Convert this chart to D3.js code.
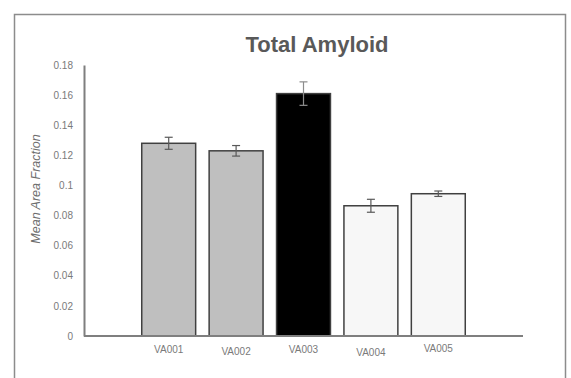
<!DOCTYPE html>
<html>
<head>
<meta charset="utf-8">
<script src="https://cdn.jsdelivr.net/npm/d3@7"></script>
<style>
  body { margin: 0; background: #fff; }
  text { font-family: "Liberation Sans", Arial, sans-serif; }
</style>
</head>
<body>
<script>
// data
var samples = ["VA001", "VA002", "VA003", "VA004", "VA005"];
var means   = [0.128, 0.123, 0.161, 0.0865, 0.0945];
var errs    = [0.004, 0.0035, 0.0078, 0.0043, 0.0018];
var fills   = ["#bfbfbf", "#bfbfbf", "#000000", "#f7f7f7", "#f7f7f7"];
var yTicks  = [0, 0.02, 0.04, 0.06, 0.08, 0.1, 0.12, 0.14, 0.16, 0.18];
var labelShift = [0, 2, 0, 3, -1];

var width = 571, height = 378;

var svg = d3.select("body")
  .append("svg")
  .attr("width", width)
  .attr("height", height);

// outer frame (bottom edge is off the picture)
svg.append("path")
  .attr("d", "M14.5,390 L14.5,14.5 L565.5,14.5 L565.5,390")
  .attr("fill", "none")
  .attr("stroke", "#8c8c8c")
  .attr("stroke-width", 1.5);

var y = d3.scaleLinear().domain([0, 0.18]).range([336, 65]);

var x = d3.scaleBand()
  .domain(samples)
  .range([135, 472])
  .paddingInner(0.2)
  .paddingOuter(0.1);

svg.append("text")
  .attr("x", 317)
  .attr("y", 52)
  .attr("text-anchor", "middle")
  .attr("font-size", 22)
  .attr("font-weight", "bold")
  .attr("fill", "#595959")
  .text("Total Amyloid");

// y axis: line + labels, no tick marks
var yAxis = svg.append("g")
  .attr("transform", "translate(84,0)")
  .call(d3.axisLeft(y).tickValues(yTicks).tickSize(0).tickPadding(11)
    .tickFormat(function(d) { return d3.format("~g")(d); }));
yAxis.select(".domain").attr("stroke", "#7f7f7f").attr("stroke-width", 2);
yAxis.selectAll("text")
  .attr("font-size", 10)
  .attr("fill", "#7a7a7a")
  .style("font-family", "'Liberation Sans', Arial, sans-serif");

svg.append("text")
  .attr("transform", "translate(40,189) rotate(-90)")
  .attr("text-anchor", "middle")
  .attr("font-size", 12.5)
  .attr("font-style", "italic")
  .attr("fill", "#6e6e6e")
  .text("Mean Area Fraction");

// bars
svg.append("g").selectAll("rect")
  .data(samples)
  .enter()
  .append("rect")
  .attr("x", function(d) { return x(d); })
  .attr("y", function(d, i) { return y(means[i]); })
  .attr("width", x.bandwidth())
  .attr("height", function(d, i) { return y(0) - y(means[i]); })
  .attr("fill", function(d, i) { return fills[i]; })
  .attr("stroke", "#404040")
  .attr("stroke-width", 1.5);

// error bars
var eb = svg.append("g").selectAll("g")
  .data(samples)
  .enter()
  .append("g")
  .attr("stroke", function(d, i) { return i == 2 ? "#8c8c8c" : "#595959"; })
  .attr("stroke-width", 1.2);
eb.append("line")
  .attr("x1", function(d) { return x(d) + x.bandwidth() / 2; })
  .attr("x2", function(d) { return x(d) + x.bandwidth() / 2; })
  .attr("y1", function(d, i) { return y(means[i] + errs[i]); })
  .attr("y2", function(d, i) { return y(means[i] - errs[i]); });
[1, -1].forEach(function(s) {
  eb.append("line")
    .attr("x1", function(d) { return x(d) + x.bandwidth() / 2 - 4; })
    .attr("x2", function(d) { return x(d) + x.bandwidth() / 2 + 4; })
    .attr("y1", function(d, i) { return y(means[i] + s * errs[i]); })
    .attr("y2", function(d, i) { return y(means[i] + s * errs[i]); });
});

// x axis line
svg.append("line")
  .attr("x1", 84).attr("x2", 523)
  .attr("y1", y(0)).attr("y2", y(0))
  .attr("stroke", "#7f7f7f")
  .attr("stroke-width", 2);

svg.append("g").selectAll("text")
  .data(samples)
  .enter()
  .append("text")
  .attr("x", function(d) { return x(d) + x.bandwidth() / 2; })
  .attr("y", function(d, i) { return 353 + labelShift[i]; })
  .attr("text-anchor", "middle")
  .attr("font-size", 10)
  .attr("fill", "#7a7a7a")
  .text(function(d) { return d; });
</script>
</body>
</html>
